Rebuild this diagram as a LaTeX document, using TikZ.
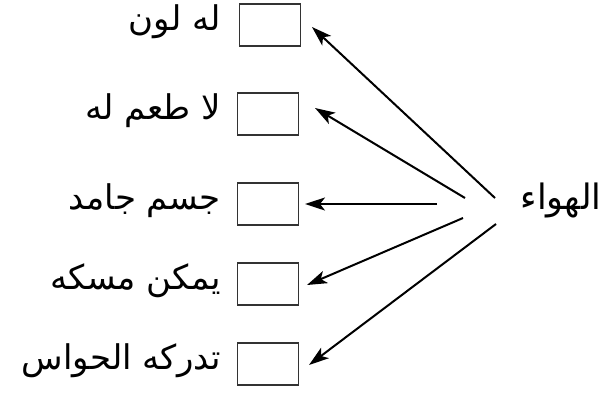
\documentclass[tikz,border=0pt]{standalone}
\usepackage{fontspec}
\newfontfamily\arabicfont[Script=Arabic]{DejaVu Sans}
\TeXXeTstate=1
\usetikzlibrary{arrows.meta}
\begin{document}
\begin{tikzpicture}[x=1pt,y=-1pt,
  answerbox/.style={draw=black!80,line width=1.4pt,minimum width=61pt,minimum height=42pt,inner sep=0pt},
  lbl/.style={anchor=east,inner sep=0pt,font=\arabicfont\fontsize{34}{40}\selectfont},
  arr/.style={line width=2pt,-{Stealth[length=20pt,width=13pt,inset=5pt]}}]
\useasboundingbox (0,0) rectangle (609,392);
\node[answerbox] (b1) at (270,25) {};
\node[answerbox] (b2) at (268,114) {};
\node[answerbox] (b3) at (268,204) {};
\node[answerbox] (b4) at (268,284) {};
\node[answerbox] (b5) at (268,364) {};
\node[lbl] (l1) at (221,22) {\beginR له لون\endR};
\node[lbl] (l2) at (221,111) {\beginR لا طعم له\endR};
\node[lbl] (l3) at (221,201) {\beginR جسم جامد\endR};
\node[lbl] (l4) at (221,281) {\beginR يمكن مسكه\endR};
\node[lbl] (l5) at (221,361) {\beginR تدركه الحواس\endR};
\node[lbl,anchor=center,font=\arabicfont\fontsize{35}{42}\selectfont] (air) at (561,200) {\beginR الهواء\endR};
\coordinate (t1) at (495,198);
\coordinate (t2) at (465,198);
\coordinate (t3) at (437,204);
\coordinate (t4) at (463,218);
\coordinate (t5) at (496,224);
\coordinate (p1) at (312,27);
\coordinate (p2) at (315,108);
\coordinate (p3) at (305,204);
\coordinate (p4) at (307,285);
\coordinate (p5) at (309,365);
\draw[arr] (t1) -- (p1);
\draw[arr] (t2) -- (p2);
\draw[arr] (t3) -- (p3);
\draw[arr] (t4) -- (p4);
\draw[arr] (t5) -- (p5);
\end{tikzpicture}
\end{document}
